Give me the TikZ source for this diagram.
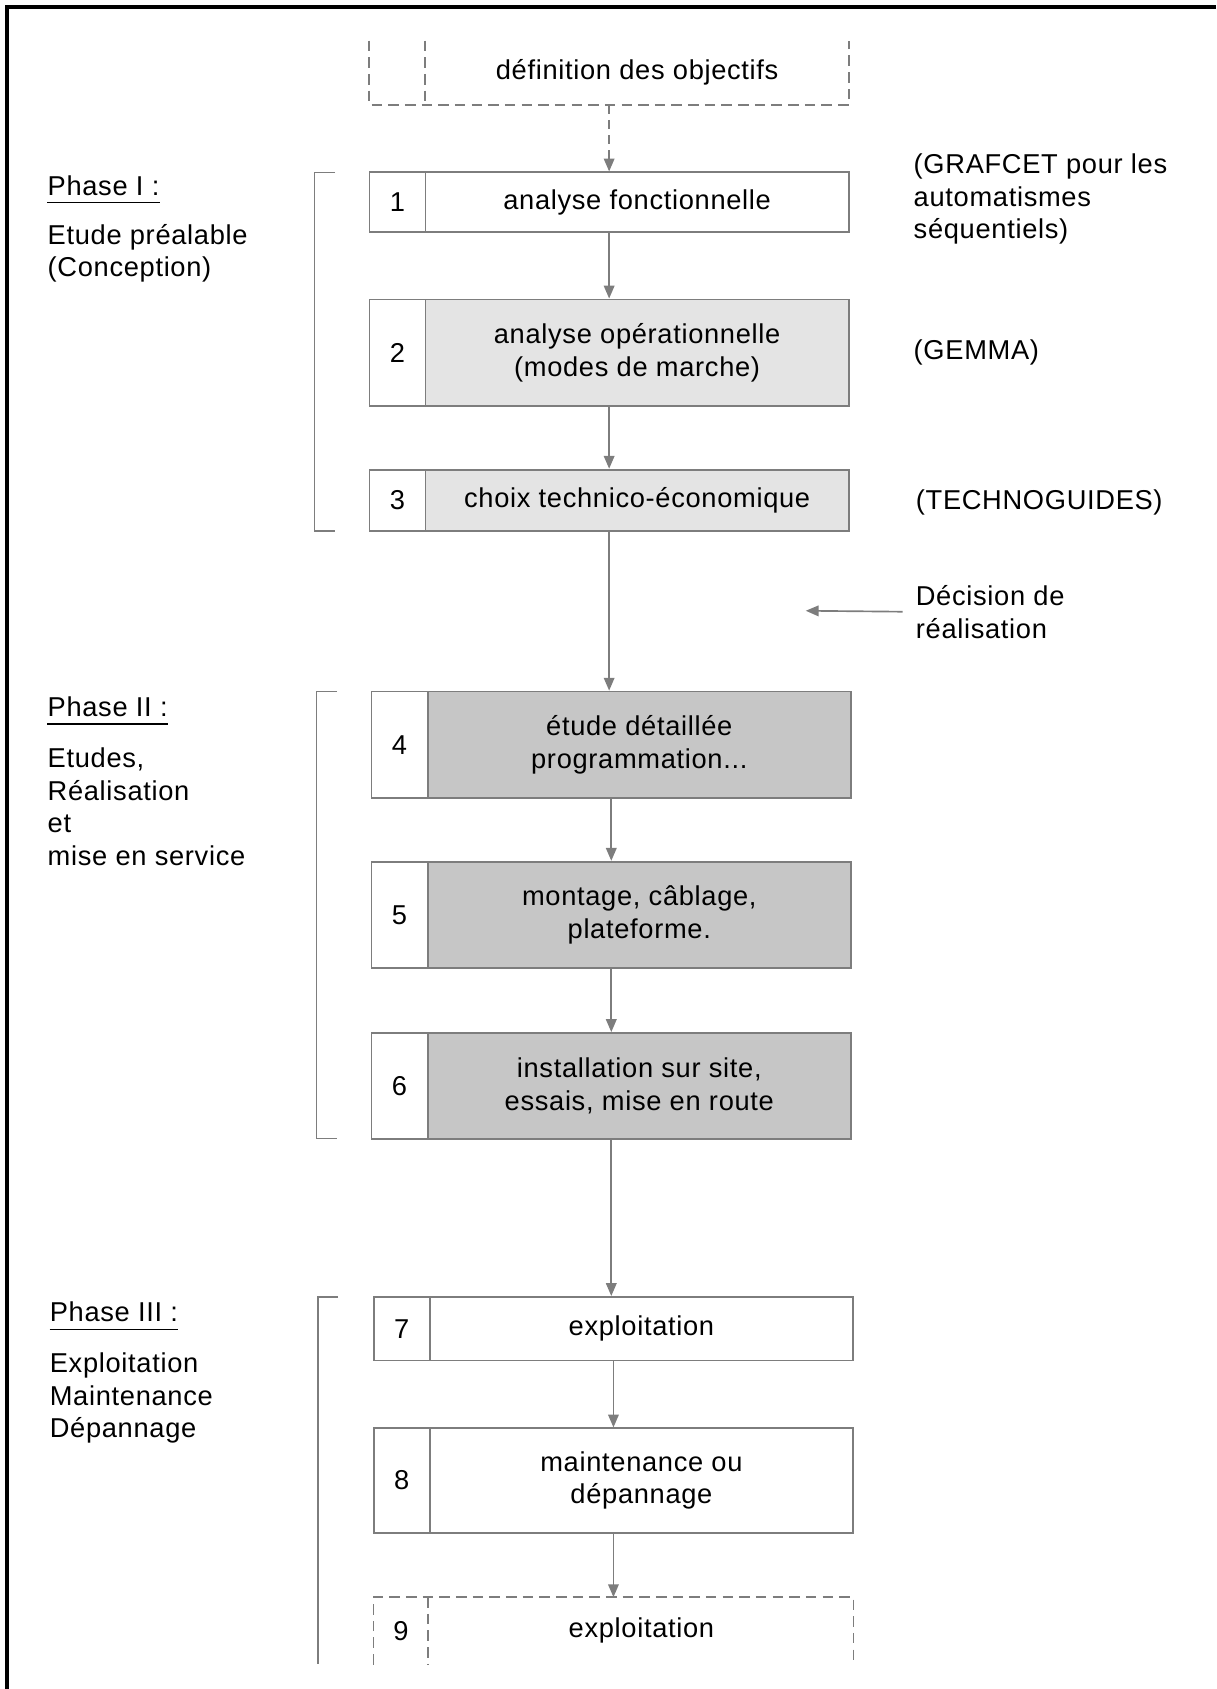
\documentclass[tikz,border=0pt]{standalone}
\usepackage{fontspec}
\setmainfont{Liberation Sans}[LetterSpace=2.5]
\usepackage{tikz}
\usetikzlibrary{arrows.meta, calc}
\definecolor{traitgris}{RGB}{125,125,125}
\definecolor{fondclair}{RGB}{228,228,228}
\definecolor{fondfonce}{RGB}{198,198,198}

\tikzset{
  etape/.style={rectangle, draw=traitgris, line width=1.2pt, minimum width=11.125cm, inner sep=0pt},
  numero/.style={rectangle, draw=traitgris, fill=white, line width=1.2pt, minimum width=1.3cm, inner sep=0pt, anchor=west},
  pointille/.style={draw=traitgris, line width=1.2pt, dash pattern=on 7pt off 4pt},
  fleche/.style={draw=traitgris, line width=1.1pt, -{Triangle[length=8.5pt, width=7pt]}},
  crochet/.style={draw=traitgris, line width=1pt},
  texte/.style={align=left, anchor=west, inner sep=0pt},
}

\begin{document}
\begin{tikzpicture}[x=0.025cm, y=-0.025cm, font=\fontsize{18}{21.5}\selectfont]
  \useasboundingbox (0,0) rectangle (1129,1568);
  % cadre
  \draw[line width=2pt] (6.5,1568) -- (6.5,6.5) -- (1129,6.5);

  % etape 0 (pointillee)
  \node[minimum width=11.125cm, minimum height=1.475cm, inner sep=0pt] (b0) at (565.5,67.5) {};
  \draw[pointille] (b0.north west) -- (b0.south west) -- (b0.south east) -- (b0.north east);
  \draw[pointille] ($(b0.north west)+(52,0)$) -- ($(b0.south west)+(52,0)$);
  \node (t0) at ($(b0.center)+(26,0)$) {définition des objectifs};

  % phase I
  \node[etape, minimum height=1.375cm] (b1) at (565.5,187.5) {};
  \node[numero, minimum height=1.375cm] (n1) at (b1.west) {1};
  \node (t1) at ($(b1.center)+(26,0)$) {analyse fonctionnelle};

  \node[etape, fill=fondclair, minimum height=2.475cm] (b2) at (565.5,327.5) {};
  \node[numero, minimum height=2.475cm] (n2) at (b2.west) {2};
  \node[align=center] (t2) at ($(b2.center)+(26,0)$) {analyse opérationnelle\\(modes de marche)};

  \node[etape, fill=fondclair, minimum height=1.425cm] (b3) at (565.5,464.5) {};
  \node[numero, minimum height=1.425cm] (n3) at (b3.west) {3};
  \node (t3) at ($(b3.center)+(26,0)$) {choix technico-économique};

  % phase II
  \node[etape, fill=fondfonce, minimum height=2.475cm] (b4) at (567.5,691.5) {};
  \node[numero, minimum height=2.475cm] (n4) at (b4.west) {4};
  \node[align=center] (t4) at ($(b4.center)+(26,0)$) {étude détaillée\\programmation...};

  \node[etape, fill=fondfonce, minimum height=2.475cm] (b5) at (567.5,849.5) {};
  \node[numero, minimum height=2.475cm] (n5) at (b5.west) {5};
  \node[align=center] (t5) at ($(b5.center)+(26,0)$) {montage, câblage,\\plateforme.};

  \node[etape, fill=fondfonce, minimum height=2.45cm] (b6) at (567.5,1008) {};
  \node[numero, minimum height=2.45cm] (n6) at (b6.west) {6};
  \node[align=center] (t6) at ($(b6.center)+(26,0)$) {installation sur site,\\essais, mise en route};

  % phase III
  \node[etape, minimum height=1.475cm] (b7) at (569.5,1233.5) {};
  \node[numero, minimum height=1.475cm] (n7) at (b7.west) {7};
  \node (t7) at ($(b7.center)+(26,0)$) {exploitation};

  \node[etape, minimum height=2.425cm] (b8) at (569.5,1374.5) {};
  \node[numero, minimum height=2.425cm] (n8) at (b8.west) {8};
  \node[align=center] (t8) at ($(b8.center)+(26,0)$) {maintenance ou\\dépannage};

  % etape 9 (pointillee)
  \node[minimum width=11.125cm, minimum height=1.55cm, inner sep=0pt] (b9) at (569.5,1514) {};
  \draw[pointille] (b9.south west) -- (b9.north west) -- (b9.north east) -- (b9.south east);
  \draw[pointille] ($(b9.north west)+(51,0)$) -- ($(b9.south west)+(51,0)$);
  \node (n9) at ($(b9.west)+(25.5,0)$) {9};
  \node (t9) at ($(b9.center)+(26,0)$) {exploitation};

  % liaisons
  \draw[fleche, dash pattern=on 6pt off 4pt] (b0.south) -- (b1.north);
  \draw[fleche] (b1.south) -- (b2.north);
  \draw[fleche] (b2.south) -- (b3.north);
  \draw[fleche] (b3.south) -- (b3.south |- b4.north);
  \draw[fleche] (b4.south) -- (b5.north);
  \draw[fleche] (b5.south) -- (b6.north);
  \draw[fleche] (b6.south) -- (b6.south |- b7.north);
  \draw[fleche] (b7.south) -- (b8.north);
  \draw[fleche] (b8.south) -- (b9.north);

  % crochets des phases
  \draw[crochet] (311,160) -- (292,160) -- (292,493) -- (311,493);
  \draw[crochet] (313,642) -- (294,642) -- (294,1057) -- (313,1057);
  \draw[crochet] (314,1204) -- (295,1204) -- (295,1545);

  % textes de gauche
  \node[texte] (ph1) at (44,172) {Phase I :};
  \draw[line width=1pt] ($(ph1.south west)+(0,6.5)$) -- ($(ph1.south east)+(0,6.5)$);
  \node[texte] (e1) at (44,235) {Etude préalable\\(Conception)};

  \node[texte] (ph2) at (44,656) {Phase II :};
  \draw[line width=1pt] ($(ph2.south west)+(0,6.5)$) -- ($(ph2.south east)+(0,6.5)$);
  \node[texte] (e2) at (44,749) {Etudes,\\Réalisation\\et\\mise en service};

  \node[texte] (ph3) at (46,1218) {Phase III :};
  \draw[line width=1pt] ($(ph3.south west)+(0,6.5)$) -- ($(ph3.south east)+(0,6.5)$);
  \node[texte] (e3) at (46,1298) {Exploitation\\Maintenance\\Dépannage};

  % textes de droite
  \node[texte] (r1) at (848,185) {(GRAFCET pour les\\automatismes\\séquentiels)};
  \node[texte] (r2) at (848,327) {(GEMMA)};
  \node[texte] (r3) at (850,466) {(TECHNOGUIDES)};
  \node[texte] (dec) at (850,568) {Décision de\\réalisation};
  \coordinate (decfin) at (748,567);
  \draw[fleche, shorten <=0.3cm] (dec.west) -- (decfin);
\end{tikzpicture}
\end{document}
